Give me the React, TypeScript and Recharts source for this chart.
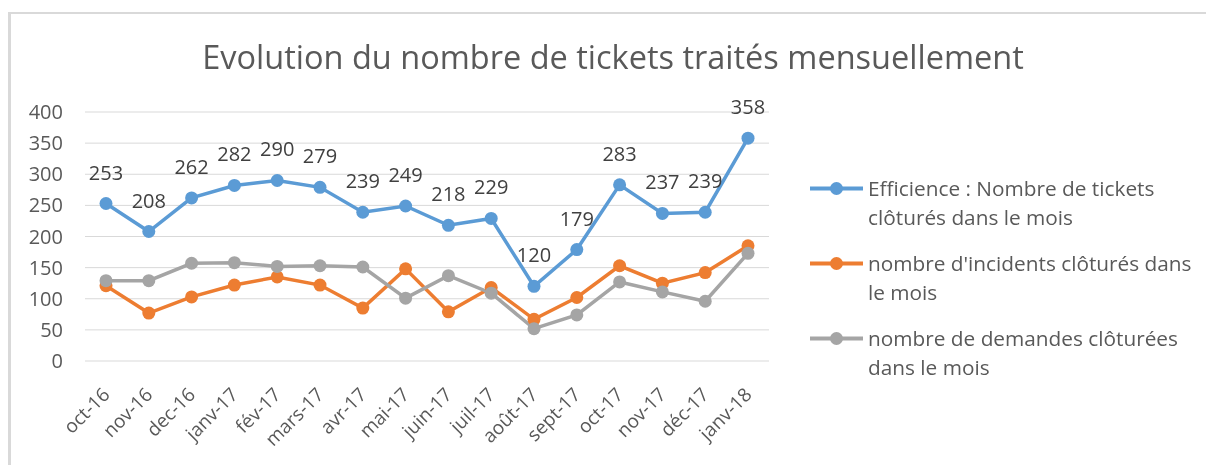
import React from 'react';
import { LineChart, Line, XAxis, YAxis, CartesianGrid, LabelList, Legend } from 'recharts';

const months = ['oct-16', 'nov-16', 'dec-16', 'janv-17', 'fév-17', 'mars-17', 'avr-17', 'mai-17', 'juin-17', 'juil-17', 'août-17', 'sept-17', 'oct-17', 'nov-17', 'déc-17', 'janv-18'];
const efficience = [253, 208, 262, 282, 290, 279, 239, 249, 218, 229, 120, 179, 283, 237, 239, 358];
const incidents = [121, 77, 103, 122, 135, 122, 85, 148, 79, 118, 67, 102, 153, 125, 142, 185];
const demandes = [129, 129, 157, 158, 152, 153, 151, 101, 137, 109, 52, 74, 127, 111, 96, 173];
const yTicks = [0, 50, 100, 150, 200, 250, 300, 350, 400];

const title = 'Evolution du nombre de tickets traités mensuellement';
const legendItems = [
  { key: 'efficience', color: '#5B9BD5', lines: ['Efficience : Nombre de tickets', 'clôturés dans le mois'] },
  { key: 'incidents', color: '#ED7D31', lines: ["nombre d'incidents clôturés dans", 'le mois'] },
  { key: 'demandes', color: '#A5A5A5', lines: ['nombre de demandes clôturées', 'dans le mois'] },
];

const data = months.map((m, i) => ({
  month: m,
  efficience: efficience[i],
  incidents: incidents[i],
  demandes: demandes[i],
}));

const FONT = '"Open Sans", Lato, sans-serif';

const XTick = (props: any) => {
  const { x, y, payload } = props;
  return (
    <g transform={`translate(${x},${y + 30})`}>
      <text x={0} y={0} dy="0.36em" textAnchor="end" transform="rotate(-45)" fill="#595959" fontSize={19} fontFamily={FONT}>
        {payload.value}
      </text>
    </g>
  );
};

const LegendContent = () => (
  <div style={{ fontFamily: FONT, fontSize: 20.8, color: '#595959', lineHeight: '29px' }}>
    {legendItems.map((it, i) => (
      <div key={it.key} style={{ display: 'flex', alignItems: 'flex-start', marginBottom: i === 1 ? 17 : 17 }}>
        <svg width={58} height={29} style={{ flex: 'none' }}>
          <line x1={0} y1={14.5} x2={53} y2={14.5} stroke={it.color} strokeWidth={4} />
          <circle cx={26.5} cy={14.5} r={6.5} fill={it.color} />
        </svg>
        <div>
          {it.lines.map((l, j) => (
            <div key={j} style={{ whiteSpace: 'nowrap' }}>{l}</div>
          ))}
        </div>
      </div>
    ))}
  </div>
);

export default function App() {
  return (
    <div style={{ position: 'relative', width: 1190, height: 450 }}>
      <div style={{ position: 'fixed', left: 8, top: 12, width: 1198, height: 453, borderLeft: '3px solid #d9d9d9', borderTop: '2px solid #d9d9d9', boxSizing: 'border-box' }} />
      <div style={{ position: 'absolute', left: 0, width: 1210, top: 33, textAlign: 'center', fontFamily: FONT, fontSize: 32.5, lineHeight: '31px', color: '#595959', whiteSpace: 'nowrap' }}>
        {title}
      </div>
      <div style={{ position: 'absolute', left: 0, top: 0 }}>
        <LineChart width={1190} height={450} data={data} margin={{ top: 104, right: 429, bottom: 37, left: 0 }}>
          <CartesianGrid vertical={false} stroke="#d9d9d9" strokeWidth={1} />
          <XAxis dataKey="month" axisLine={false} tickLine={false} tickSize={0} tickMargin={0} interval={0} padding={{ left: 21, right: 21 }} height={60} tick={<XTick />} />
          <YAxis domain={[0, 400]} ticks={yTicks} axisLine={false} tickLine={false} tickSize={0} tickMargin={22} width={77} tick={{ fill: '#595959', fontSize: 20, fontFamily: FONT }} />
          <Legend layout="vertical" align="center" verticalAlign="middle" content={<LegendContent />} wrapperStyle={{ left: 802, top: 166, width: 400 }} />
          <Line type="linear" dataKey="efficience" stroke="#5B9BD5" strokeWidth={3.5} dot={{ r: 6.5, fill: '#5B9BD5', stroke: '#5B9BD5', strokeWidth: 0 }} isAnimationActive={false}>
            <LabelList dataKey="efficience" position="top" offset={24} fill="#404040" fontSize={20} fontFamily={FONT} />
          </Line>
          <Line type="linear" dataKey="incidents" stroke="#ED7D31" strokeWidth={3.5} dot={{ r: 6.5, fill: '#ED7D31', stroke: '#ED7D31', strokeWidth: 0 }} isAnimationActive={false} />
          <Line type="linear" dataKey="demandes" stroke="#A5A5A5" strokeWidth={3.5} dot={{ r: 6.5, fill: '#A5A5A5', stroke: '#A5A5A5', strokeWidth: 0 }} isAnimationActive={false} />
        </LineChart>
      </div>
    </div>
  );
}
